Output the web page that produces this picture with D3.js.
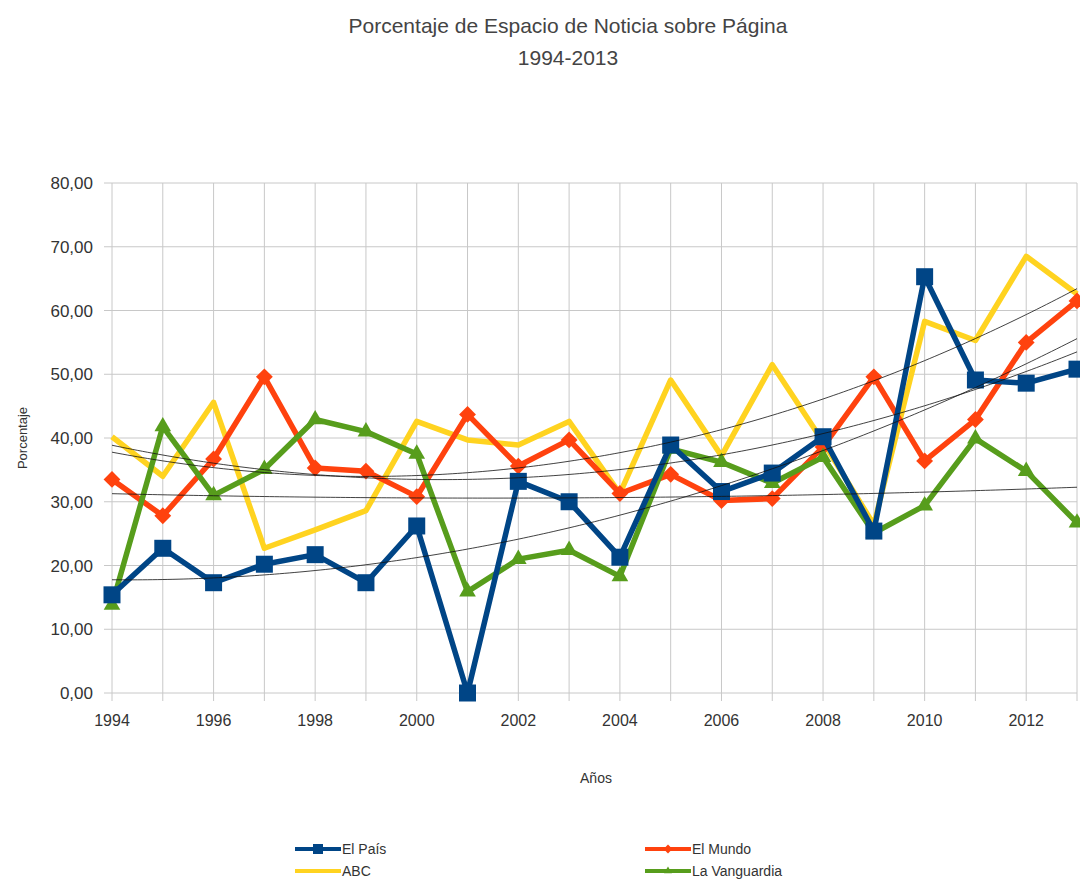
<!DOCTYPE html>
<html>
<head>
<meta charset="utf-8">
<style>
body { margin: 0; background: white; }
text { font-family: "Liberation Sans", Arial, sans-serif; fill: #333; }
</style>
</head>
<body>
<script src="https://cdn.jsdelivr.net/npm/d3@7"></script>
<script>
var width = 1080, height = 884;

// data
var years = [1994, 1995, 1996, 1997, 1998, 1999, 2000, 2001, 2002, 2003,
             2004, 2005, 2006, 2007, 2008, 2009, 2010, 2011, 2012, 2013];
var elPais = [15.4, 22.7, 17.3, 20.2, 21.7, 17.3, 26.2, 0.0, 33.2, 30.0,
              21.3, 38.9, 31.6, 34.5, 40.2, 25.4, 65.3, 49.1, 48.6, 50.8];
var elMundo = [33.5, 27.8, 36.7, 49.6, 35.3, 34.8, 30.8, 43.7, 35.6, 39.7,
               31.3, 34.3, 30.2, 30.5, 38.6, 49.6, 36.4, 42.9, 55.0, 61.5];
var abc = [40.2, 34.0, 45.6, 22.7, 25.6, 28.6, 42.6, 39.7, 38.9, 42.6,
           31.3, 49.1, 37.2, 51.5, 39.4, 26.4, 58.3, 55.3, 68.5, 62.6];
var vanguardia = [13.8, 41.8, 31.0, 35.1, 42.9, 41.0, 37.5, 15.9, 21.0, 22.4,
                  18.3, 38.3, 36.2, 32.9, 37.0, 25.1, 29.4, 39.9, 34.8, 26.7];
var yTicks = [0, 10, 20, 30, 40, 50, 60, 70, 80];
var xTicks = [1994, 1996, 1998, 2000, 2002, 2004, 2006, 2008, 2010, 2012];

var series = [
  {name: "El País", values: elPais, color: "#004586", marker: "square"},
  {name: "El Mundo", values: elMundo, color: "#ff420e", marker: "diamond"},
  {name: "ABC", values: abc, color: "#ffd320", marker: null},
  {name: "La Vanguardia", values: vanguardia, color: "#579d1c", marker: "triangle"}
];
// draw order (last on top)
var drawOrder = [2, 1, 3, 0];

var margin = {left: 112, right: 3, top: 183, bottom: 191};

var svg = d3.select("body").append("svg")
    .attr("width", width)
    .attr("height", height);

var x = d3.scaleLinear().domain([1994, 2013]).range([margin.left, width - margin.right]);
var y = d3.scaleLinear().domain([0, 80]).range([height - margin.bottom, margin.top]);

// title
svg.append("text").attr("x", 568).attr("y", 33).attr("text-anchor", "middle")
  .style("font-size", "21px").style("fill", "#444")
  .text("Porcentaje de Espacio de Noticia sobre Página");
svg.append("text").attr("x", 568).attr("y", 65).attr("text-anchor", "middle")
  .style("font-size", "21px").style("fill", "#444")
  .text("1994-2013");

// grid
var grid = svg.append("g");
grid.selectAll("line.h").data(yTicks).enter().append("line")
  .attr("x1", margin.left - 8).attr("x2", width - margin.right)
  .attr("y1", d => y(d)).attr("y2", d => y(d))
  .attr("stroke", "#c8c8c8").attr("stroke-width", 1);
grid.selectAll("line.v").data(years).enter().append("line")
  .attr("x1", d => x(d)).attr("x2", d => x(d))
  .attr("y1", y(80)).attr("y2", y(0) + 8)
  .attr("stroke", "#c8c8c8").attr("stroke-width", 1);

// axes labels
var fmt = d3.format(".2f");
svg.append("g").selectAll("text").data(yTicks).enter().append("text")
  .attr("x", 93).attr("y", d => y(d) + 6)
  .attr("text-anchor", "end")
  .style("font-size", "17px")
  .text(d => fmt(d).replace(".", ","));
svg.append("g").selectAll("text").data(xTicks).enter().append("text")
  .attr("x", d => x(d)).attr("y", 726)
  .attr("text-anchor", "middle")
  .style("font-size", "16px")
  .text(d => d);
svg.append("text").attr("x", 596).attr("y", 783).attr("text-anchor", "middle")
  .style("font-size", "14px").text("Años");
svg.append("text").attr("transform", "translate(27,438) rotate(-90)")
  .attr("text-anchor", "middle").style("font-size", "13px").text("Porcentaje");

// clip for plot
svg.append("clipPath").attr("id", "clip").append("rect")
  .attr("x", 0).attr("y", 0).attr("width", width).attr("height", height);

var plot = svg.append("g").attr("clip-path", "url(#clip)");

function markerPath(type, size) {
  if (type === "square") return d3.symbol().type(d3.symbolSquare).size(size * size)();
  if (type === "diamond") return d3.symbol().type(d3.symbolDiamond2).size(size * size * 0.5)();
  if (type === "triangle") return d3.symbol().type(d3.symbolTriangle2).size(size * size * 0.45)();
  return null;
}
var markerSize = {square: 17, diamond: 19, triangle: 21};

var line = d3.line().x((d, i) => x(years[i])).y(d => y(d));

drawOrder.forEach(function(k) {
  var s = series[k];
  plot.append("path").datum(s.values)
    .attr("d", line)
    .attr("fill", "none")
    .attr("stroke", s.color)
    .attr("stroke-width", 5.5)
    .attr("stroke-linejoin", "round");
  if (s.marker) {
    plot.selectAll(null).data(s.values).enter().append("path")
      .attr("d", markerPath(s.marker, markerSize[s.marker]))
      .attr("transform", (d, i) => "translate(" + x(years[i]) + "," + y(d) + ")")
      .attr("fill", s.color);
  }
});

// quadratic trend lines
function quadFit(xs, ys) {
  var n = xs.length, x0 = d3.mean(xs);
  var sx = 0, sx2 = 0, sx3 = 0, sx4 = 0, sy = 0, sxy = 0, sx2y = 0;
  for (var i = 0; i < n; i++) {
    var t = xs[i] - x0, v = ys[i];
    sx += t; sx2 += t * t; sx3 += t * t * t; sx4 += t * t * t * t;
    sy += v; sxy += t * v; sx2y += t * t * v;
  }
  // solve 3x3 normal equations
  var A = [[n, sx, sx2, sy], [sx, sx2, sx3, sxy], [sx2, sx3, sx4, sx2y]];
  for (var c = 0; c < 3; c++) {
    for (var r = c + 1; r < 3; r++) {
      var f = A[r][c] / A[c][c];
      for (var j = c; j < 4; j++) A[r][j] -= f * A[c][j];
    }
  }
  var b = [0, 0, 0];
  for (var r2 = 2; r2 >= 0; r2--) {
    var sum = A[r2][3];
    for (var j2 = r2 + 1; j2 < 3; j2++) sum -= A[r2][j2] * b[j2];
    b[r2] = sum / A[r2][r2];
  }
  return function(xv) { var t = xv - x0; return b[0] + b[1] * t + b[2] * t * t; };
}

var samples = d3.range(1994, 2013.001, 0.1);
series.forEach(function(s) {
  var f = quadFit(years, s.values);
  plot.append("path").datum(samples)
    .attr("d", d3.line().x(d => x(d)).y(d => y(f(d))))
    .attr("fill", "none")
    .attr("stroke", "#111")
    .attr("stroke-width", 0.8);
});

// legend
var legendItems = [
  {s: series[0], x: 295, y: 849},
  {s: series[1], x: 645, y: 849},
  {s: series[2], x: 295, y: 871},
  {s: series[3], x: 645, y: 871}
];
var lg = svg.append("g");
legendItems.forEach(function(it) {
  lg.append("line").attr("x1", it.x).attr("x2", it.x + 46)
    .attr("y1", it.y).attr("y2", it.y)
    .attr("stroke", it.s.color).attr("stroke-width", 4);
  if (it.s.marker) {
    lg.append("path").attr("d", markerPath(it.s.marker, 10))
      .attr("transform", "translate(" + (it.x + 23) + "," + it.y + ")")
      .attr("fill", it.s.color);
  }
  lg.append("text").attr("x", it.x + 47).attr("y", it.y + 5)
    .style("font-size", "14px").text(it.s.name);
});
</script>
</body>
</html>
